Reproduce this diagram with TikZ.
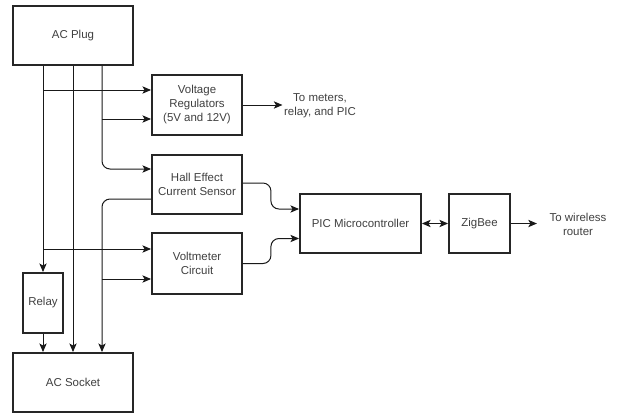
\documentclass[tikz,border=0pt]{standalone}
\usepackage{fontspec}
\setmainfont{Liberation Sans}
\usetikzlibrary{arrows.meta,calc}
\begin{document}
\begin{tikzpicture}[x=0.75pt,y=-0.75pt,
  box/.style={draw=black!85, line width=1.4pt, fill=white, text=black!75,
    font=\fontsize{8.6pt}{10.5pt}\selectfont, align=center, inner sep=0pt},
  lbl/.style={text=black!75, font=\fontsize{8.6pt}{10.5pt}\selectfont, align=center, inner sep=1pt},
  tip/.tip={Stealth[length=6.5pt,width=5.5pt,inset=1.6pt]},
  arr/.style={-tip, line width=0.75pt, draw=black!90},
  arrb/.style={tip-tip, line width=0.75pt, draw=black!90},
  rc/.style={rounded corners=6pt}]
\useasboundingbox (0,0) rectangle (617,415);

\node[box, minimum width=90pt, minimum height=44.25pt] (plug) at (73,35.5) {AC Plug};
\node[box, minimum width=67.5pt, minimum height=45pt] (vr) at (197,105) {Voltage\\Regulators\\(5V and 12V)};
\node[box, minimum width=67.5pt, minimum height=44.25pt] (hall) at (197,184.5) {Hall Effect\\Current Sensor};
\node[box, minimum width=67.5pt, minimum height=45.75pt] (volt) at (197,263.5) {Voltmeter\\Circuit};
\node[box, minimum width=90.75pt, minimum height=44.25pt] (pic) at (360.5,223.5) {PIC Microcontroller};
\node[box, minimum width=45.75pt, minimum height=44.25pt] (zig) at (479.5,223.5) {ZigBee};
\node[box, minimum width=30pt, minimum height=45pt] (relay) at (43,303) {Relay};
\node[box, minimum width=90pt, minimum height=44.25pt] (socket) at (73,382.5) {AC Socket};

\node[lbl] (tm) at (320,106) {To meters,\\relay, and PIC};
\node[lbl] (tw) at (578,224.5) {To wireless\\router};

\coordinate (t1) at ($(plug.south)+(-30,0)$);
\coordinate (t3) at ($(plug.south)+(29,0)$);
\coordinate (vr1) at ($(vr.west)+(0,-15)$);
\coordinate (vr2) at ($(vr.west)+(0,14)$);
\coordinate (vm1) at ($(volt.west)+(0,-14.5)$);
\coordinate (vm2) at ($(volt.west)+(0,15.5)$);
\coordinate (zend) at ($(zig.east)+(26,0)$);

\draw[arr] (t1) -- (relay.north);
\draw[arr] (plug.south) -- (socket.north);
\draw[arr, rc] (t3) |- ($(hall.west)+(0,-15.5)$);
\draw[arr, rc] ($(hall.west)+(0,14.5)$) -| (t3 |- socket.north);
\draw[arr] (t1 |- vr1) -- (vr1);
\draw[arr] (t3 |- vr2) -- (vr2);
\draw[arr] (t1 |- vm1) -- (vm1);
\draw[arr] (t3 |- vm2) -- (vm2);
\draw[arr] (relay.south) -- (relay.south |- socket.north);

\draw[arr] (vr.east) -- (tm.west |- vr.east);
\draw[arr, rc] ($(hall.east)+(0,-1.5)$) -- ++(28,0) |- ($(pic.west)+(0,-14.5)$);
\draw[arr, rc] (volt.east) -- ++(28,0) |- ($(pic.west)+(0,15)$);
\draw[arrb] (pic.east) -- (zig.west);
\draw[arr] (zig.east) -- (zend);
\end{tikzpicture}
\end{document}
